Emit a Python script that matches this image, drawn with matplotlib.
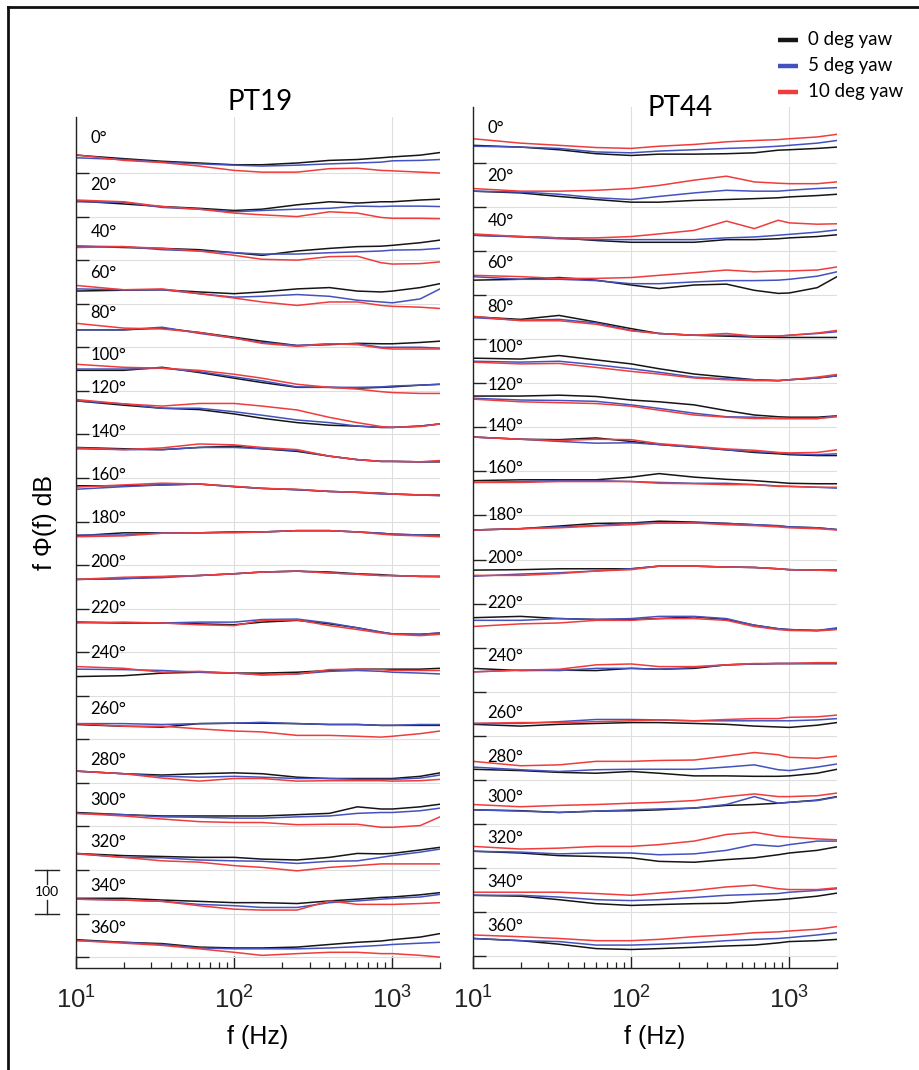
import numpy as np
import matplotlib
matplotlib.use("Agg")
import matplotlib.pyplot as plt
from matplotlib.lines import Line2D
from matplotlib.ticker import LogLocator, NullFormatter, FixedLocator
import matplotlib.transforms as mtransforms

plt.rcParams['mathtext.fontset'] = 'custom'
plt.rcParams['mathtext.rm'] = 'Liberation Sans'
plt.rcParams['mathtext.it'] = 'Liberation Sans:italic'
plt.rcParams['font.family'] = ['Liberation Sans', 'DejaVu Sans']

# ---------------- data ----------------
FREQ = [10, 20, 35, 60, 100, 150, 250, 400, 600, 850, 1000, 1500, 2000]
ANGLES = list(range(0, 361, 20))
SERIES_LABELS = ['0 deg yaw', '5 deg yaw', '10 deg yaw']
OFFSET_STEP = 10  # dB between stacked spectra

# level (dB) of each spectrum above its own stacking base; rows = angles
PT19_0YAW = [
    [4.1, 3.3, 2.7, 2.3, 1.9, 1.9, 2.3, 2.9, 3.1, 3.5, 3.7, 4.1, 4.7],
    [3.6, 2.9, 2.3, 1.9, 1.4, 1.7, 2.7, 3.4, 3.1, 3.4, 3.4, 3.8, 4.0],
    [3.2, 2.9, 2.7, 2.4, 1.7, 1.1, 2.1, 2.7, 3.1, 3.2, 3.4, 4.0, 4.6],
    [2.9, 3.1, 3.2, 2.7, 2.3, 2.7, 3.4, 3.7, 2.9, 2.7, 2.9, 3.7, 4.6],
    [4.0, 4.0, 4.4, 3.4, 2.3, 1.4, 0.4, 0.6, 0.9, 0.8, 0.8, 1.1, 1.4],
    [4.7, 4.7, 5.4, 4.2, 2.9, 1.9, 0.8, 0.8, 0.6, 0.8, 0.9, 1.3, 1.5],
    [7.7, 6.7, 6.0, 5.7, 4.7, 3.7, 2.7, 2.1, 1.9, 1.6, 1.6, 1.9, 2.4],
    [7.0, 6.7, 6.5, 7.0, 7.3, 6.7, 6.1, 5.0, 4.2, 3.8, 3.8, 3.7, 3.7],
    [8.2, 8.2, 8.4, 8.6, 8.0, 7.6, 7.3, 6.9, 6.7, 6.5, 6.3, 6.1, 6.1],
    [6.7, 7.4, 7.4, 7.4, 7.6, 7.6, 7.9, 7.9, 7.6, 7.3, 7.1, 6.9, 6.9],
    [6.7, 6.9, 7.3, 7.6, 8.0, 8.4, 8.6, 8.4, 8.0, 7.8, 7.6, 7.4, 7.4],
    [6.9, 6.7, 6.7, 6.5, 6.3, 6.9, 7.3, 6.5, 5.6, 4.6, 4.2, 4.1, 4.4],
    [4.4, 4.6, 5.2, 5.4, 5.2, 5.2, 5.4, 5.8, 6.1, 6.1, 6.1, 6.1, 6.3],
    [3.4, 3.0, 2.8, 3.6, 3.7, 3.7, 3.6, 3.4, 3.4, 3.2, 3.2, 3.2, 3.2],
    [2.7, 2.1, 1.8, 2.1, 2.3, 2.1, 1.3, 1.0, 1.0, 1.0, 1.0, 1.5, 2.3],
    [3.2, 2.7, 2.4, 2.4, 2.4, 2.4, 2.7, 3.0, 4.5, 4.0, 4.0, 4.5, 5.1],
    [3.8, 3.3, 3.1, 2.9, 2.9, 2.5, 2.3, 2.9, 3.8, 3.7, 3.8, 4.6, 5.2],
    [3.5, 3.5, 3.1, 2.8, 2.5, 2.5, 2.3, 2.9, 3.3, 3.7, 3.8, 4.3, 4.8],
    [4.0, 3.4, 3.1, 2.3, 2.1, 2.1, 2.3, 2.9, 3.4, 3.7, 4.0, 4.6, 5.4],
]
PT19_5YAW = [
    [3.5, 3.1, 2.5, 2.1, 1.8, 1.6, 1.8, 2.1, 2.3, 2.5, 2.8, 2.9, 3.1],
    [3.4, 3.3, 2.1, 1.7, 1.1, 1.4, 1.7, 1.9, 2.4, 2.3, 2.4, 2.4, 2.3],
    [3.2, 3.1, 2.4, 2.1, 1.7, 1.4, 1.4, 1.7, 1.9, 2.1, 2.3, 2.4, 2.7],
    [3.4, 3.2, 3.2, 2.3, 1.5, 1.7, 2.1, 1.7, 0.8, 0.4, 0.2, 1.1, 3.4],
    [4.0, 4.0, 4.6, 3.2, 2.1, 1.1, 0.4, 0.8, 0.8, 0.0, 0.0, 0.0, -0.2],
    [5.0, 5.0, 5.2, 4.4, 3.2, 2.3, 0.9, 0.8, 0.8, 0.9, 1.1, 1.3, 1.5],
    [7.7, 7.0, 6.0, 6.0, 5.2, 4.4, 3.3, 2.7, 1.9, 1.6, 1.6, 1.9, 2.4],
    [6.7, 6.5, 6.5, 7.0, 7.0, 6.7, 6.3, 5.0, 4.2, 3.8, 3.8, 3.7, 3.8],
    [7.4, 8.0, 8.4, 8.6, 8.0, 7.6, 7.3, 6.9, 6.7, 6.3, 6.3, 6.1, 5.9],
    [6.9, 6.9, 7.4, 7.4, 7.6, 7.6, 7.9, 7.9, 7.6, 7.3, 7.1, 6.9, 6.7],
    [6.7, 6.9, 7.1, 7.6, 8.0, 8.4, 8.6, 8.2, 7.9, 7.6, 7.6, 7.4, 7.3],
    [6.9, 6.7, 6.7, 6.9, 6.9, 7.5, 7.6, 6.7, 5.6, 4.6, 4.2, 4.1, 4.4],
    [6.1, 6.0, 5.8, 5.4, 5.2, 4.8, 5.0, 5.6, 5.8, 5.6, 5.4, 5.2, 5.0],
    [3.6, 3.6, 3.4, 3.6, 3.7, 3.9, 3.6, 3.4, 3.4, 3.2, 3.2, 3.4, 3.4],
    [2.7, 2.1, 1.5, 1.3, 1.5, 1.3, 1.0, 1.0, 0.8, 0.8, 0.8, 1.1, 1.8],
    [3.0, 2.7, 2.2, 2.1, 1.9, 1.9, 2.2, 2.4, 3.0, 3.2, 3.2, 3.6, 4.2],
    [3.7, 2.9, 2.8, 2.3, 2.1, 2.0, 1.5, 2.0, 2.1, 2.9, 3.3, 4.1, 4.8],
    [3.3, 3.1, 2.8, 2.1, 1.8, 1.4, 1.4, 2.5, 2.9, 3.3, 3.5, 3.8, 4.4],
    [3.8, 3.4, 2.9, 2.1, 1.9, 1.9, 1.9, 2.1, 2.4, 2.7, 2.9, 3.2, 3.4],
]
PT19_10YAW = [
    [4.2, 2.9, 2.4, 1.6, 0.6, 0.2, 0.2, 1.0, 1.1, 0.6, 0.5, 0.2, 0.0],
    [3.8, 3.4, 2.3, 1.7, 0.8, 0.4, 0.0, 1.1, 0.8, -0.2, -0.4, -0.4, -0.5],
    [2.9, 3.1, 2.7, 2.1, 1.1, 0.2, 0.0, 0.8, 0.9, -0.6, -0.9, -0.8, -0.4],
    [4.2, 3.2, 3.4, 2.3, 1.3, 0.4, -0.4, 0.4, 0.4, -0.4, -0.6, -0.8, -1.1],
    [5.5, 4.4, 4.2, 3.4, 2.1, 0.9, 0.2, 0.8, 0.6, -0.2, -0.4, -0.4, -0.4],
    [6.1, 5.4, 5.2, 4.7, 3.8, 2.9, 1.5, 0.8, 0.4, -0.2, -0.4, -0.6, -0.6],
    [8.0, 7.0, 6.5, 7.1, 7.1, 6.5, 5.6, 3.9, 2.7, 1.8, 1.6, 1.8, 2.4],
    [6.9, 6.5, 6.9, 7.8, 7.6, 7.0, 6.5, 5.0, 4.2, 3.8, 3.8, 3.7, 4.0],
    [7.9, 8.4, 8.8, 8.6, 8.1, 7.6, 7.4, 6.9, 6.7, 6.5, 6.3, 6.1, 6.1],
    [6.5, 6.7, 7.3, 7.4, 7.4, 7.6, 7.9, 7.9, 7.6, 7.1, 6.9, 6.7, 6.5],
    [6.7, 7.2, 7.4, 7.6, 8.0, 8.4, 8.6, 8.2, 7.9, 7.6, 7.6, 7.4, 7.4],
    [6.7, 6.9, 6.7, 6.3, 6.1, 7.3, 7.4, 6.1, 5.2, 4.4, 4.1, 3.8, 4.1],
    [6.7, 6.3, 5.4, 5.6, 5.2, 4.8, 5.0, 6.0, 6.1, 6.0, 5.8, 5.8, 5.8],
    [3.6, 3.0, 3.0, 2.4, 1.9, 1.7, 0.9, 0.9, 0.7, 0.5, 0.7, 1.3, 1.9],
    [2.7, 2.1, 1.1, 0.4, 1.0, 1.0, 0.4, 0.5, 0.5, 0.5, 0.4, 0.5, 0.8],
    [3.0, 2.4, 1.7, 1.1, 0.9, 0.9, 0.4, 0.5, 0.5, -0.2, -0.2, 0.2, 2.2],
    [3.8, 2.9, 2.1, 1.8, 1.0, 0.6, -0.2, 0.6, 1.0, 1.4, 1.4, 1.4, 1.4],
    [3.3, 3.1, 2.8, 1.8, 1.0, 0.8, 0.8, 2.9, 2.1, 2.1, 2.1, 2.3, 2.5],
    [3.8, 3.2, 2.7, 1.9, 1.1, 0.4, 0.8, 1.1, 1.1, 0.8, 0.8, 0.4, 0.0],
]
PT44_0YAW = [
    [4.0, 3.6, 3.0, 2.1, 1.7, 2.0, 2.0, 2.1, 2.3, 2.9, 3.0, 3.3, 3.6],
    [3.6, 3.2, 2.4, 1.7, 1.1, 1.1, 1.5, 1.7, 1.9, 2.1, 2.3, 2.6, 2.9],
    [3.6, 3.3, 3.0, 2.4, 2.0, 2.0, 2.0, 2.6, 2.6, 2.8, 3.0, 3.3, 3.7],
    [3.4, 3.6, 4.0, 3.4, 2.3, 1.5, 2.3, 2.5, 1.1, 0.4, 0.5, 1.7, 4.2],
    [5.1, 4.5, 5.4, 3.9, 2.4, 1.3, 0.9, 0.7, 0.5, 0.4, 0.4, 0.4, 0.4],
    [5.7, 5.5, 6.3, 5.3, 4.4, 3.3, 2.1, 1.4, 0.8, 0.6, 0.8, 1.2, 1.7],
    [7.1, 7.1, 7.3, 7.0, 6.2, 5.8, 5.1, 3.8, 2.8, 2.4, 2.3, 2.3, 2.6],
    [7.8, 7.3, 7.2, 7.6, 6.8, 6.1, 5.5, 4.9, 4.3, 4.0, 3.8, 3.6, 3.6],
    [7.9, 8.1, 8.1, 8.1, 8.7, 9.5, 8.7, 8.2, 7.9, 7.5, 7.3, 7.2, 7.2],
    [6.7, 7.0, 7.6, 8.2, 8.3, 8.7, 8.5, 8.2, 7.9, 7.6, 7.4, 7.2, 6.8],
    [7.6, 7.7, 7.9, 7.9, 7.9, 8.5, 8.5, 8.3, 8.2, 7.9, 7.7, 7.6, 7.6],
    [6.8, 7.1, 6.6, 6.4, 6.4, 6.6, 7.0, 6.4, 5.1, 4.3, 4.1, 3.9, 4.3],
    [5.3, 4.8, 4.9, 4.8, 5.3, 5.1, 5.3, 6.1, 6.3, 6.4, 6.4, 6.4, 6.4],
    [2.6, 2.2, 2.6, 2.8, 3.0, 3.0, 2.8, 2.6, 2.2, 2.0, 1.9, 2.4, 3.0],
    [2.4, 2.1, 1.7, 1.5, 1.9, 1.5, 0.9, 0.9, 0.8, 0.8, 0.9, 1.5, 2.4],
    [3.2, 3.0, 2.6, 2.9, 3.0, 3.2, 3.6, 4.2, 4.4, 4.7, 4.9, 5.4, 6.2],
    [3.8, 3.4, 2.8, 2.6, 2.3, 1.5, 1.3, 1.9, 2.3, 3.0, 3.4, 4.0, 4.8],
    [3.8, 3.6, 2.8, 1.9, 1.5, 1.7, 1.9, 2.0, 2.5, 2.8, 3.0, 3.6, 4.3],
    [4.0, 3.5, 2.7, 1.7, 1.5, 1.7, 2.0, 2.3, 2.5, 3.0, 3.3, 3.5, 3.8],
]
PT44_5YAW = [
    [3.8, 3.6, 3.3, 2.5, 2.3, 2.7, 3.0, 3.3, 3.5, 3.8, 4.0, 4.5, 5.1],
    [3.6, 3.4, 2.9, 2.1, 1.7, 2.4, 3.2, 3.8, 3.6, 3.6, 3.8, 4.2, 4.4],
    [3.6, 3.2, 2.8, 2.6, 2.6, 2.6, 2.6, 3.0, 3.2, 3.6, 3.8, 4.3, 4.8],
    [4.2, 3.6, 3.6, 3.3, 2.6, 2.6, 3.0, 3.3, 3.3, 3.4, 3.6, 4.3, 5.3],
    [4.9, 4.3, 4.5, 3.7, 2.0, 1.3, 0.9, 0.9, 0.7, 0.7, 0.9, 1.3, 1.7],
    [5.0, 4.8, 5.0, 4.2, 3.3, 2.5, 1.4, 1.0, 0.8, 0.6, 0.8, 1.2, 1.7],
    [6.6, 6.2, 6.1, 5.9, 5.1, 4.3, 3.2, 2.4, 2.3, 2.0, 2.0, 2.0, 2.6],
    [7.8, 7.3, 6.8, 6.4, 6.5, 6.1, 5.5, 4.9, 4.5, 4.2, 4.0, 3.8, 4.0],
    [7.5, 7.7, 7.9, 7.9, 7.7, 7.5, 7.3, 7.3, 7.0, 6.7, 6.6, 6.4, 6.2],
    [6.7, 7.0, 7.4, 7.7, 8.2, 8.3, 8.3, 8.2, 7.9, 7.7, 7.4, 7.2, 6.8],
    [6.2, 6.7, 7.0, 7.4, 7.9, 8.5, 8.5, 8.3, 8.2, 7.9, 7.7, 7.6, 7.6],
    [6.2, 6.2, 6.6, 6.4, 6.6, 7.1, 7.1, 6.6, 5.1, 4.3, 4.1, 3.9, 4.5],
    [4.5, 4.9, 4.8, 5.3, 5.3, 5.1, 5.5, 6.1, 6.3, 6.4, 6.4, 6.4, 6.4],
    [2.8, 2.8, 3.2, 3.7, 3.7, 3.6, 3.4, 3.4, 3.4, 3.4, 3.4, 3.6, 3.9],
    [2.9, 2.3, 1.9, 2.3, 2.4, 2.4, 2.4, 2.9, 3.4, 2.3, 2.1, 2.9, 3.6],
    [3.2, 2.9, 2.6, 2.9, 3.2, 3.4, 3.6, 4.4, 6.2, 4.7, 4.9, 5.3, 6.1],
    [3.8, 3.6, 3.2, 3.4, 3.4, 3.0, 3.2, 4.0, 5.3, 4.9, 5.3, 6.1, 6.1],
    [3.8, 3.8, 3.4, 2.8, 2.6, 2.8, 3.3, 3.8, 4.0, 4.2, 4.5, 4.9, 5.3],
    [4.0, 3.5, 3.3, 2.5, 2.5, 2.7, 3.0, 3.5, 3.8, 4.0, 4.2, 4.8, 5.3],
]
PT44_10YAW = [
    [5.5, 4.5, 4.0, 3.5, 3.3, 3.8, 4.2, 4.8, 5.1, 5.3, 5.5, 5.9, 6.5],
    [4.2, 3.6, 3.6, 3.8, 4.2, 4.9, 6.1, 7.0, 5.7, 5.4, 5.3, 5.3, 5.7],
    [3.9, 3.3, 3.0, 3.0, 3.3, 3.9, 4.7, 6.8, 5.1, 7.0, 6.4, 6.1, 6.2],
    [4.5, 4.2, 3.8, 3.8, 4.0, 4.5, 5.1, 5.7, 5.3, 5.5, 5.5, 5.7, 6.4],
    [5.2, 4.2, 4.2, 3.4, 1.9, 1.3, 0.9, 1.3, 0.7, 0.7, 0.9, 1.4, 2.0],
    [4.8, 4.4, 4.5, 3.6, 2.7, 2.1, 1.2, 0.8, 0.6, 0.6, 0.8, 1.4, 2.0],
    [6.4, 5.8, 5.6, 5.4, 4.8, 3.9, 2.8, 2.3, 2.0, 2.0, 2.0, 2.0, 2.4],
    [7.8, 7.3, 7.0, 7.3, 7.2, 6.3, 5.7, 5.1, 4.8, 4.3, 4.2, 4.3, 4.9],
    [7.5, 7.5, 7.7, 7.7, 7.7, 7.3, 7.2, 7.0, 7.0, 6.6, 6.6, 6.4, 6.4],
    [6.7, 7.0, 7.2, 7.6, 7.9, 8.3, 8.3, 7.9, 7.7, 7.4, 7.2, 7.0, 6.7],
    [6.4, 6.4, 6.8, 7.4, 7.7, 8.5, 8.5, 8.3, 8.2, 7.9, 7.7, 7.6, 7.4],
    [4.8, 5.4, 5.6, 6.2, 6.2, 6.6, 6.6, 6.2, 4.8, 4.1, 3.9, 3.8, 4.1],
    [4.5, 4.9, 5.1, 6.1, 6.3, 5.7, 5.7, 6.1, 6.4, 6.4, 6.4, 6.6, 6.6],
    [2.8, 3.0, 3.0, 3.2, 3.4, 3.6, 3.4, 3.7, 3.9, 3.9, 4.2, 4.3, 4.7],
    [4.2, 3.2, 3.4, 4.2, 4.2, 4.4, 4.5, 5.4, 6.2, 5.7, 5.1, 4.9, 5.4],
    [4.4, 3.9, 4.2, 4.4, 4.7, 4.9, 5.3, 6.2, 6.8, 6.2, 6.2, 6.4, 7.0],
    [4.9, 4.3, 4.5, 4.9, 4.9, 5.3, 6.1, 7.6, 8.1, 7.2, 7.0, 6.6, 6.4],
    [4.5, 4.5, 4.5, 4.2, 3.8, 4.3, 4.9, 5.7, 6.1, 5.3, 5.1, 5.1, 5.5],
    [4.8, 4.4, 4.0, 3.5, 3.5, 3.8, 4.4, 4.8, 5.3, 5.5, 5.7, 6.1, 6.7],
]

# ---------------- layout / style ----------------
COLORS = ['#151515', '#4452bd', '#f03c3c']
LABEL_DY_PT19 = [8.0, 7.3, 6.4, 7.1, 7.8, 8.3, 10.6, 10.6, 10.6, 10.8, 10.6, 10.1,
                 9.9, 6.9, 5.3, 6.0, 6.4, 6.4, 6.7]
LABEL_DY_PT44 = [7.9, 7.0, 6.8, 7.3, 7.3, 8.2, 9.5, 10.2, 10.7, 10.0, 10.4, 10.2,
                 8.2, 5.2, 5.2, 6.1, 6.8, 6.8, 6.8]

W, H = 920, 1070
fig = plt.figure(figsize=(W / 100, H / 100), dpi=100)


def rect(x0, y0, x1, y1):
    return [x0 / W, 1 - y1 / H, (x1 - x0) / W, (y1 - y0) / H]


axL = fig.add_axes(rect(76, 117, 440, 968))
axR = fig.add_axes(rect(473, 107, 837, 968))

CAL = ['Lato', 'DejaVu Sans']


def setup(ax, ytop, ybot):
    ax.set_xscale('log')
    ax.set_xlim(FREQ[0], FREQ[-1])
    ax.set_ylim(ybot, ytop)
    ax.set_yticks([-OFFSET_STEP * k for k in range(len(ANGLES))])
    ax.set_yticklabels([])
    ax.tick_params(axis='y', direction='in', length=9, width=1.0, colors='#222222')
    ax.xaxis.set_major_locator(FixedLocator([10, 100, 1000]))
    ax.xaxis.set_minor_locator(LogLocator(base=10, subs=np.arange(2, 10), numticks=30))
    ax.xaxis.set_minor_formatter(NullFormatter())
    ax.set_xticklabels([r'$10^{1}$', r'$10^{2}$', r'$10^{3}$'])
    ax.tick_params(axis='x', which='major', direction='in', length=9, width=1.0,
                   labelsize=18.5, pad=13, colors='#222222')
    ax.tick_params(axis='x', which='minor', direction='in', length=4.5, width=0.9,
                   colors='#222222')
    ax.grid(True, which='major', color='#dedede', lw=0.8)
    ax.set_axisbelow(True)
    for s in ['top', 'right']:
        ax.spines[s].set_visible(False)
    for s in ['left', 'bottom']:
        ax.spines[s].set_color('#222222')
        ax.spines[s].set_linewidth(1.0)
    ax.patch.set_alpha(0)


def draw(ax, series, label_dy):
    f = np.array(FREQ, dtype=float)
    tr = mtransforms.blended_transform_factory(ax.transAxes, ax.transData)
    for k, ang in enumerate(ANGLES):
        base = -OFFSET_STEP * k
        for s, col in zip(series, COLORS):
            ax.plot(f, base + np.array(s[k]), color=col, lw=1.1, solid_joinstyle='round')
        ax.text(0.04, base + label_dy[k], f'{ang}°', transform=tr,
                ha='left', va='center', fontsize=12, family=CAL)


setup(axL, 12.86, -182.5)
setup(axR, 12.7, -182.7)
draw(axL, [PT19_0YAW, PT19_5YAW, PT19_10YAW], LABEL_DY_PT19)
draw(axR, [PT44_0YAW, PT44_5YAW, PT44_10YAW], LABEL_DY_PT44)

# titles
fig.text(260 / W, 1 - 102 / H, 'PT19', ha='center', va='center', fontsize=20, family=CAL)
fig.text(680 / W, 1 - 108 / H, 'PT44', ha='center', va='center', fontsize=20, family=CAL)

# axis labels
fig.text(258 / W, 1 - 1037 / H, 'f (Hz)', ha='center', va='center', fontsize=18)
fig.text(655 / W, 1 - 1037 / H, 'f (Hz)', ha='center', va='center', fontsize=18)
fig.text(45 / W, 1 - 522 / H, 'f Φ(f) dB', ha='center', va='center', fontsize=18, rotation=90)

# scale bar (10 dB) on the left axes
tr = mtransforms.blended_transform_factory(axL.transAxes, axL.transData)
xb = -0.08
yb0, yb1 = -160, -160 - OFFSET_STEP
for y in (yb0, yb1):
    axL.add_line(Line2D([xb - 0.032, xb + 0.032], [y, y], transform=tr, color='#222222', lw=1.0, clip_on=False))
axL.add_line(Line2D([xb, xb], [yb0, yb0 - 3.2], transform=tr, color='#222222', lw=1.0, clip_on=False))
axL.add_line(Line2D([xb, xb], [yb1 + 3.2, yb1], transform=tr, color='#222222', lw=1.0, clip_on=False))
axL.text(xb, (yb0 + yb1) / 2, '100', transform=tr, ha='center', va='center', fontsize=10, family=CAL)

# legend
for i, (lab, col) in enumerate(zip(SERIES_LABELS, COLORS)):
    yy = 1 - (40 + 26 * i) / H
    fig.add_artist(Line2D([778 / W, 798 / W], [yy, yy], transform=fig.transFigure, color=col, lw=3.2,
                          solid_capstyle='butt'))
    fig.text(808 / W, yy, lab, ha='left', va='center', fontsize=13.5, family=CAL)

# frame (cropped at right and bottom)
fig.add_artist(Line2D([8 / W, 8 / W], [0, 1 - 7 / H], transform=fig.transFigure, color='#111111', lw=2))
fig.add_artist(Line2D([8 / W, 1], [1 - 7 / H, 1 - 7 / H], transform=fig.transFigure, color='#111111', lw=2))

fig.savefig('out.png', dpi=100, facecolor='white')
